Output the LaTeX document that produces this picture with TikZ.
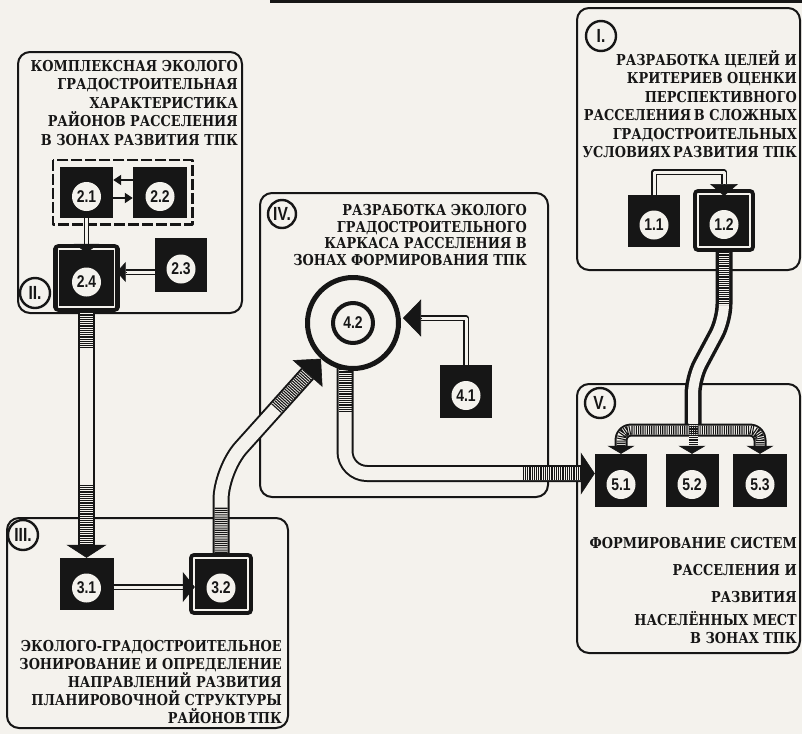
\documentclass[tikz,border=0pt]{standalone}
\usepackage{fontspec}
\setmainfont{Liberation Serif}
\newfontfamily\capfont[FakeStretch=0.86]{DejaVu Serif}
\newfontfamily\numfont[FakeStretch=0.82]{Liberation Sans}
\usetikzlibrary{arrows.meta,calc}
\definecolor{paper}{RGB}{244,242,237}
\definecolor{ink}{RGB}{22,22,22}
\tikzset{
  panel/.style={draw=ink, line width=2pt, rounded corners=12pt},
  caption/.style={font=\capfont\bfseries\fontsize{15}{18.5}\selectfont, align=right, anchor=north east, inner sep=0pt, text=ink},
  unit/.style 2 args={fill=ink, inner sep=0pt, minimum width=#1, minimum height=#2},
  framed/.style={draw=ink, double=paper, double distance=1.4pt, line width=4.5pt, outer sep=5.2pt},
  disc/.style={circle, fill=paper, inner sep=0pt, minimum size=29pt, text=ink, font=\numfont\bfseries\fontsize{17}{17}\selectfont},
  numeral/.style={circle, draw=ink, line width=2.4pt, fill=paper, inner sep=0pt, minimum size=30pt, text=ink, font=\numfont\bfseries\fontsize{19}{19}\selectfont},
  tube/.style={draw=paper, line width=13pt, preaction={draw=ink, line width=17pt}},
  thintube/.style={draw=paper, line width=9pt, preaction={draw=ink, line width=13pt}},
  rib/.style={draw=ink, line width=#1, dash pattern=on 1.1pt off 1.1pt},
  rib/.default=13pt,
  wire/.style={draw=ink, line width=1.3pt, double=paper, double distance=3pt},
  arrowin/.style 2 args={draw=ink, line width=0.6pt, -{Triangle[width=#1,length=#2]}}
}
\begin{document}
\begin{tikzpicture}[x=1pt, y=-1pt, line join=round]
\useasboundingbox (0,0) rectangle (802,734);
\fill[paper] (0,0) rectangle (802,734);
\fill[ink] (270,0) rectangle (802,3);

% panels
\draw[panel] (18,52) rectangle (242,313);
\draw[panel] (577,8) rectangle (800,270);
\draw[panel] (260,193) rectangle (548,497);
\draw[panel] (7,518) rectangle (288,728);
\draw[panel] (577,384) rectangle (800,653);

% blocks
\foreach \nm/\pos/\bw/\bh in {b11/{654,221}/52/52, b21/{86.5,192.5}/53/51, b22/{160,192.5}/54/51,
    b23/{181,265}/52/54, b31/{86.5,584}/54/52, b41/{466,391.5}/52/53,
    b51/{621,480.5}/52/53, b52/{692,480.5}/53/53, b53/{760,480.5}/54/53}
  \node[unit={\bw pt}{\bh pt}] (\nm) at (\pos) {};
\foreach \nm/\pos/\bw/\bh in {b12/{724,220.5}/52/53, b24/{86.5,278}/56/58, b32/{221,584}/54/52}
  \node[unit={\bw pt}{\bh pt}, framed] (\nm) at (\pos) {};
\foreach \nm/\txt in {b11/1.1, b12/1.2, b21/2.1, b22/2.2, b23/2.3, b24/2.4, b31/3.1, b32/3.2,
    b41/4.1, b51/5.1, b52/5.2, b53/5.3}
  \node[disc] at ($(\nm)+(0,4)$) {\txt};

\draw[ink, line width=2.6pt, dash pattern=on 11pt off 3pt]
  ($(b21.north west)+(-7,-7)$) rectangle ($(b22.south east)+(5,6)$);

% links inside the blocks
\draw[ink, line width=1.8pt, -{Triangle[width=10pt,length=8pt]}] ($(b22.west)+(0,-12.5)$) -- ($(b21.east)+(0,-12.5)$);
\draw[ink, line width=1.8pt, -{Triangle[width=10pt,length=8pt]}] ($(b21.east)+(0,5.5)$) -- ($(b22.west)+(0,5.5)$);
\draw[wire] (b21.south) -- (b24.north);
\draw[arrowin={25pt}{9pt}] (b24.north) -- ++(0,9);
\coordinate (e24) at ($(b24.east)+(0,-6)$);
\draw[wire] (b23.west |- e24) -- ($(e24)+(6,0)$);
\draw[arrowin={20pt}{9pt}] ($(e24)+(6,0)$) -- ($(e24)+(-3,0)$);
\coordinate (w11) at (724,172);
\draw[wire] (b11.north) |- (w11) -- ++(0,12);
\draw[arrowin={28pt}{12pt}] ($(w11)+(0,12)$) -- ++(0,12);
\draw[wire] ($(b31.east)+(0,3)$) -- ($(b32.west)+(-6,3)$);
\draw[arrowin={30pt}{12pt}] ($(b32.west)+(-6,3)$) -- ($(b32.west)+(6,3)$);
\coordinate (c42) at (353,323);
\coordinate (w41) at (421,318);
\draw[wire] (b41.north) |- (w41);
\draw[arrowin={37pt}{18pt}] (w41) -- (403,318);

% pipes
\coordinate (h31) at ($(b31.north)+(0,-13)$);
\draw[tube] (b24.south) -- (h31);
\draw[rib] (b24.south) -- ++(0,36) ($(h31)+(0,-60)$) -- (h31);
\draw[arrowin={40pt}{13pt}] (h31) -- (b31.north);

\coordinate (k32) at (221,470);
\coordinate (t42) at ($(c42)!48pt!(k32)$);
\coordinate (s42) at ($(c42)!68pt!(k32)$);
\draw[tube, rounded corners=30pt] (b32.north) -- (k32) -- (s42);
\draw[rib] (b32.north) -- ++(0,-46) ($(c42)!115pt!(k32)$) -- (s42);
\draw[arrowin={40pt}{20pt}] (s42) -- (t42);

\coordinate (e51) at ($(b51.west)+(0,-7)$);
\coordinate (k45) at (345,473.5);
\draw[tube, rounded corners=22pt] (345,367) -- (k45) -- ($(e51)+(-14,0)$);
\draw[rib] (345,367) -- (345,413) ($(e51)+(-72,0)$) -- ($(e51)+(-14,0)$);
\draw[arrowin={42pt}{14pt}] ($(e51)+(-14,0)$) -- (e51);

\draw[tube, line width=10pt, preaction={draw=ink, line width=14pt}, rounded corners=16pt]
  (b12.south) -- (724,320) -- (693,378) -- (693,428);
\draw[thintube, rounded corners=10pt] (b51.north |- 0,446) -- (621,430) -- (760,430) -- (b53.north |- 0,446);
\draw[paper, line width=9pt] (693,420) -- (693,446);
\draw[rib=10pt] (b12.south) -- (724,305);
\draw[rib=9pt, rounded corners=10pt] (b51.north |- 0,446) -- (621,430) -- (760,430) -- (b53.north |- 0,446);
\draw[rib=9pt] (693,424) -- (693,446);
\foreach \nm in {b51, b52, b53}
  \draw[arrowin={27pt}{8pt}] ($(\nm.north)+(0,-8)$) -- (\nm.north);

% ring 4.2
\node[circle, draw=ink, line width=5pt, fill=paper, minimum size=91pt] (g42) at (c42) {};
\node[circle, draw=ink, line width=4pt, minimum size=40pt, inner sep=0pt, text=ink,
  font=\numfont\bfseries\fontsize{17}{17}\selectfont] at (c42) {4.2};

% stage marks
\node[numeral] (nI) at (601,36) {I.};
\node[numeral] (nII) at (35,293) {II.};
\node[numeral] (nIII) at (23,535) {III.};
\node[numeral, minimum size=28pt] (nIV) at (282,214) {IV.};
\node[numeral] (nV) at (600,403) {V.};

% captions
\node[caption] (tI) at (797,50) {РАЗРАБОТКА ЦЕЛЕЙ И\\КРИТЕРИЕВ ОЦЕНКИ\\ПЕРСПЕКТИВНОГО\\РАССЕЛЕНИЯ\,В СЛОЖНЫХ\\ГРАДОСТРОИТЕЛЬНЫХ\\УСЛОВИЯХ\,РАЗВИТИЯ ТПК};
\node[caption] (tII) at (238,60) {КОМПЛЕКСНАЯ ЭКОЛОГО\\ГРАДОСТРОИТЕЛЬНАЯ\\ХАРАКТЕРИСТИКА\\РАЙОНОВ РАССЕЛЕНИЯ\\В ЗОНАХ РАЗВИТИЯ ТПК};
\node[caption, font=\capfont\bfseries\fontsize{15}{16.7}\selectfont] (tIV) at (527,204) {РАЗРАБОТКА ЭКОЛОГО\\ГРАДОСТРОИТЕЛЬНОГО\\КАРКАСА РАССЕЛЕНИЯ В\\ЗОНАХ ФОРМИРОВАНИЯ ТПК};
\node[caption, font=\capfont\bfseries\fontsize{15}{18}\selectfont] (tIII) at (282,640) {ЭКОЛОГО-ГРАДОСТРОИТЕЛЬНОЕ\\ЗОНИРОВАНИЕ И ОПРЕДЕЛЕНИЕ\\НАПРАВЛЕНИЙ РАЗВИТИЯ\\ПЛАНИРОВОЧНОЙ СТРУКТУРЫ\\РАЙОНОВ\,ТПК};
\node[caption, font=\capfont\bfseries\fontsize{15}{18}\selectfont] (tV) at (797,537) {ФОРМИРОВАНИЕ СИСТЕМ\\[9pt]РАССЕЛЕНИЯ И\\[9pt]РАЗВИТИЯ\\[5pt]НАСЕЛЁННЫХ МЕСТ\\В ЗОНАХ ТПК};
\end{tikzpicture}
\end{document}
